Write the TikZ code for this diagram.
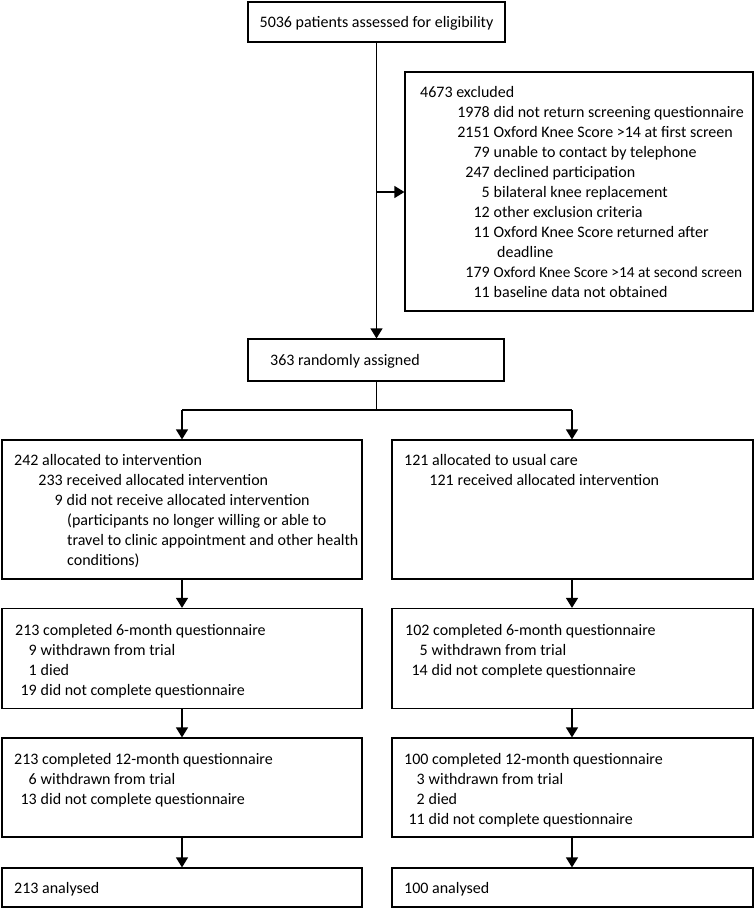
\documentclass[tikz,border=0pt]{standalone}
\usepackage{fontspec}
\setmainfont{Carlito}
\usetikzlibrary{arrows.meta}
\tikzset{
  box/.style={draw=black,line width=1.2pt,fill=white},
  txt/.style={inner sep=0pt,font=\fontsize{16}{20}\selectfont},
  arr/.style={line width=1.2pt,-{Triangle[width=12pt,length=10pt]}},
  ln/.style={line width=1.2pt}
}
\newcommand\mainline[4]{\node[txt,anchor=base west] (#1) at (#2,#3) {#4};}
\newcommand\subline[5]{\node[txt,anchor=base east] (#1n) at (#2,#3) {#4};
  \node[txt,anchor=base west] (#1t) at (#2+3.5,#3) {#5};}
\begin{document}
\begin{tikzpicture}[x=1pt,y=-1pt]
\useasboundingbox (0,0) rectangle (755,908);
% boxes
\node[box,minimum width=257pt,minimum height=40pt] (top) at (376.5,22) {};
\node[txt,anchor=center] (toptxt) at (376.5,23) {5036 patients assessed for eligibility};
\node[box,minimum width=348pt,minimum height=239pt] (excl) at (579,191.5) {};
\node[box,minimum width=256pt,minimum height=42pt] (rand) at (376,360) {};
\node[box,minimum width=360pt,minimum height=139pt] (allocL) at (182,509.5) {};
\node[box,minimum width=361pt,minimum height=139pt] (allocR) at (572.5,509.5) {};
\node[box,minimum width=360pt,minimum height=100pt] (sixL) at (182,658.5) {};
\node[box,minimum width=361pt,minimum height=100pt] (sixR) at (572.5,658.5) {};
\node[box,minimum width=360pt,minimum height=99pt] (twL) at (182,787.5) {};
\node[box,minimum width=361pt,minimum height=99pt] (twR) at (572.5,787.5) {};
\node[box,minimum width=360pt,minimum height=39pt] (anL) at (182,887.5) {};
\node[box,minimum width=361pt,minimum height=39pt] (anR) at (572.5,887.5) {};
% connectors
\coordinate (split) at (376.5,192);
\coordinate (br) at (376.5,410);
\coordinate (brL) at (182,410);
\coordinate (brR) at (572,410);
\draw[arr] (top.south -| split) -- (rand.north -| split);
\draw[arr] (split) -- (excl.west |- split);
\draw[ln] (rand.south -| br) -- (br);
\draw[ln] (brL) -- (brR);
\draw[arr] (brL) -- (allocL.north -| brL);
\draw[arr] (brR) -- (allocR.north -| brR);
\draw[arr] (allocL.south -| brL) -- (sixL.north -| brL);
\draw[arr] (allocR.south -| brR) -- (sixR.north -| brR);
\draw[arr] (sixL.south -| brL) -- (twL.north -| brL);
\draw[arr] (sixR.south -| brR) -- (twR.north -| brR);
\draw[arr] (twL.south -| brL) -- (anL.north -| brL);
\draw[arr] (twR.south -| brR) -- (anR.north -| brR);
% excluded text
\mainline{ex0}{420}{97}{4673 excluded}
\subline{exa}{490}{117}{1978}{did not return screening questionnaire}
\subline{exb}{490}{137}{2151}{Oxford Knee Score >14 at first screen}
\subline{exc}{490}{157}{79}{unable to contact by telephone}
\subline{exd}{490}{177}{247}{declined participation}
\subline{exe}{490}{197}{5}{bilateral knee replacement}
\subline{exf}{490}{217}{12}{other exclusion criteria}
\subline{exg}{490}{237}{11}{Oxford Knee Score returned after}
\mainline{exh}{497}{257}{deadline}
\subline{exi}{490}{277}{179}{\fontsize{15.3}{20}\selectfont Oxford Knee Score >14 at second screen}
\subline{exj}{490}{297}{11}{baseline data not obtained}
% randomised
\mainline{randtxt}{270}{365}{363 randomly assigned}
% allocation
\mainline{al0}{14}{465}{242 allocated to intervention}
\subline{ala}{63}{485}{233}{received allocated intervention}
\subline{alb}{63}{505}{9}{did not receive allocated intervention}
\mainline{alc}{67}{525}{(participants no longer willing or able to}
\mainline{ald}{67}{545}{travel to clinic appointment and other health}
\mainline{ale}{67}{565}{conditions)}
\mainline{ar0}{404}{465}{121 allocated to usual care}
\subline{ara}{454}{485}{121}{received allocated intervention}
% 6-month
\mainline{sl0}{15}{635}{213 completed 6-month questionnaire}
\subline{sla}{37}{655}{9}{withdrawn from trial}
\subline{slb}{37}{675}{1}{died}
\subline{slc}{37}{695}{19}{did not complete questionnaire}
\mainline{sr0}{405}{635}{102 completed 6-month questionnaire}
\subline{sra}{428}{655}{5}{withdrawn from trial}
\subline{srb}{428}{675}{14}{did not complete questionnaire}
% 12-month
\mainline{tl0}{14}{764}{213 completed 12-month questionnaire}
\subline{tla}{37}{784}{6}{withdrawn from trial}
\subline{tlb}{37}{804}{13}{did not complete questionnaire}
\mainline{tr0}{404}{764}{100 completed 12-month questionnaire}
\subline{tra}{425}{784}{3}{withdrawn from trial}
\subline{trb}{425}{804}{2}{died}
\subline{trc}{425}{824}{11}{did not complete questionnaire}
% analysed
\mainline{anLt}{14}{893}{213 analysed}
\mainline{anRt}{404}{893}{100 analysed}
\end{tikzpicture}
\end{document}
